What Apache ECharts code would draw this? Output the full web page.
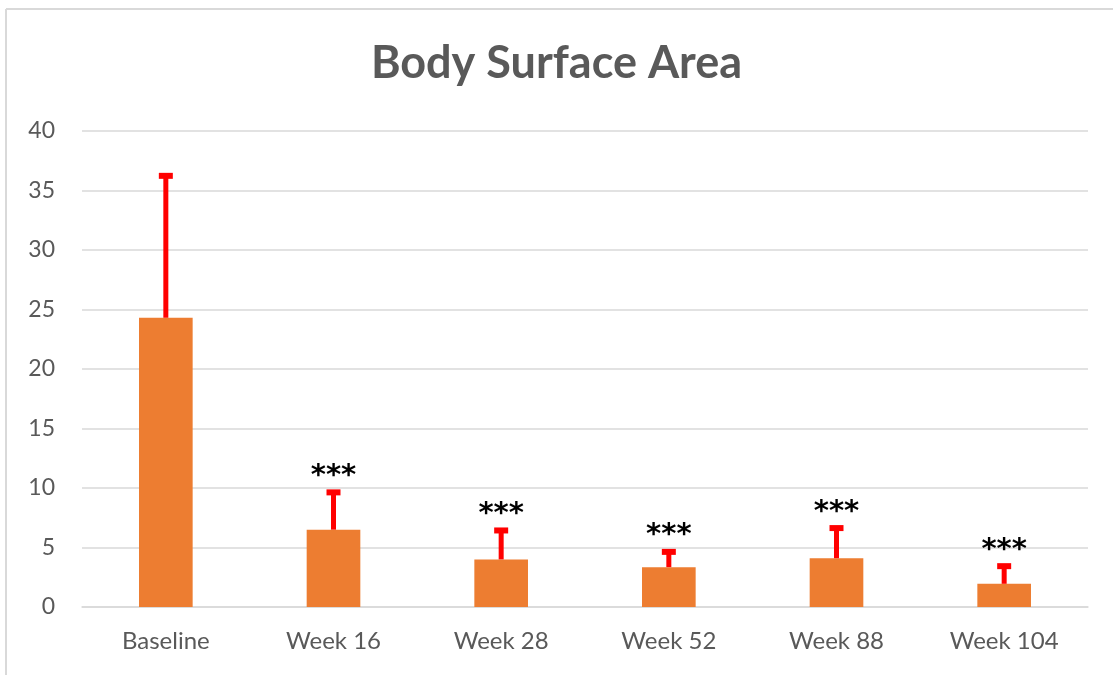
<!DOCTYPE html>
<html>
<head>
<meta charset="utf-8">
<script src="https://cdn.jsdelivr.net/npm/echarts@6/dist/echarts.min.js"></script>
<style>
  html, body { margin: 0; padding: 0; background: #fff; }
  #chart { width: 1113px; height: 675px; }
</style>
</head>
<body>
<div id="chart"></div>
<script>
  var categories = ['Baseline', 'Week 16', 'Week 28', 'Week 52', 'Week 88', 'Week 104'];
  var meanValues = [24.3, 6.5, 4.0, 3.35, 4.1, 1.95];
  var upperValues = [36.4, 9.8, 6.6, 4.8, 6.8, 3.6];
  var starLabels = ['', '***', '***', '***', '***', '***'];
  var yTicks = [0, 5, 10, 15, 20, 25, 30, 35, 40];

  var errData = categories.map(function (c, i) {
    return [i, meanValues[i], upperValues[i], starLabels[i]];
  });

  var myChart = echarts.init(document.getElementById('chart'));

  var option = {
    backgroundColor: '#fff',
    animation: false,
    title: {
      text: 'Body Surface Area',
      left: 'center',
      top: 36,
      textStyle: {
        fontFamily: 'Lato',
        fontWeight: 'bold',
        fontSize: 45,
        color: '#595959'
      }
    },
    graphic: [
      { type: 'line', shape: { x1: 6, y1: 9, x2: 1113, y2: 9 }, style: { stroke: '#d9d9d9', lineWidth: 2 } },
      { type: 'line', shape: { x1: 6, y1: 9, x2: 6, y2: 675 }, style: { stroke: '#d9d9d9', lineWidth: 2 } }
    ],
    grid: { left: 82, right: 25, top: 131, bottom: 68 },
    xAxis: {
      type: 'category',
      data: categories,
      axisTick: { show: false },
      axisLine: { lineStyle: { color: '#d9d9d9', width: 1.5 } },
      axisLabel: { fontFamily: 'Lato', fontSize: 24, color: '#595959', margin: 22 }
    },
    yAxis: {
      type: 'value',
      min: yTicks[0],
      max: yTicks[yTicks.length - 1],
      interval: 5,
      axisLine: { show: false },
      axisTick: { show: false },
      splitLine: { lineStyle: { color: '#d9d9d9', width: 1.5 } },
      axisLabel: { fontFamily: 'Lato', fontSize: 23, color: '#595959', margin: 27 }
    },
    series: [
      {
        name: 'mean',
        type: 'bar',
        data: meanValues,
        barWidth: '32%',
        itemStyle: { color: '#ED7D31' },
        z: 2
      },
      {
        name: 'error',
        type: 'custom',
        data: errData,
        z: 3,
        renderItem: function (params, api) {
          var i = api.value(0);
          var lo = api.coord([i, api.value(1)]);
          var hi = api.coord([i, api.value(2)]);
          var capW = 14;
          var children = [
            { type: 'line', shape: { x1: lo[0], y1: lo[1], x2: hi[0], y2: hi[1] + 2 },
              style: { stroke: '#ff0000', lineWidth: 5 } },
            { type: 'line', shape: { x1: hi[0] - capW / 2, y1: hi[1] + 2, x2: hi[0] + capW / 2, y2: hi[1] + 2 },
              style: { stroke: '#ff0000', lineWidth: 6 } }
          ];
          var star = starLabels[params.dataIndex];
          if (star) {
            children.push({
              type: 'text',
              x: hi[0],
              y: hi[1] - 14,
              style: {
                text: star,
                fontFamily: 'DejaVu Sans',
                fontWeight: 'bold',
                fontSize: 29,
                fill: '#000',
                align: 'center',
                verticalAlign: 'middle'
              }
            });
          }
          return { type: 'group', children: children };
        }
      }
    ]
  };
  myChart.setOption(option);
</script>
</body>
</html>
